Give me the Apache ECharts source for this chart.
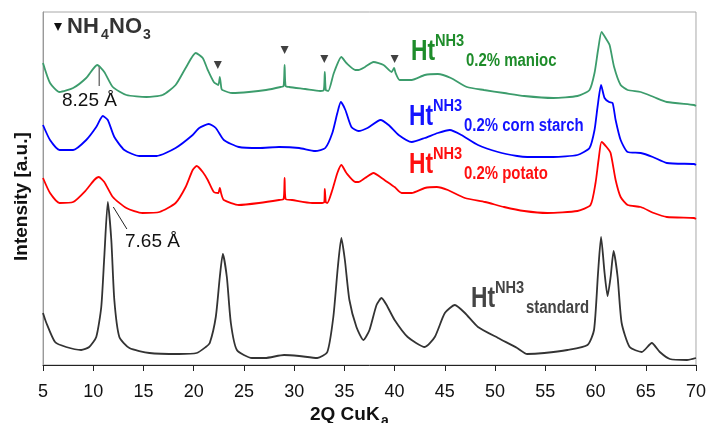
<!DOCTYPE html>
<html>
<head>
<meta charset="utf-8">
<script src="https://cdn.jsdelivr.net/npm/echarts@6/dist/echarts.min.js"></script>
<style>
  html, body { margin: 0; padding: 0; background: #fff; }
  #main { width: 709px; height: 423px; }
</style>
</head>
<body>
<div id="main"></div>
<script>
// 2theta (deg) / intensity (a.u., traces already offset vertically)
var stdTheta = [5, 5.3, 6.2, 7.3, 8.8, 9.6, 10.3, 10.8, 11.1, 11.45, 11.8, 12.1, 12.6, 13.6, 15.6, 18.5, 20.3, 21.2, 21.6, 22.2, 22.6, 22.9, 23.3, 23.7, 24.3, 25.8, 27.1, 29, 30.5, 32.3, 33.3, 33.9, 34.35, 34.7, 35.05, 35.5, 36.2, 36.9, 37.5, 38.2, 38.7, 39.2, 40, 41.3, 43, 44, 45, 46, 47, 48.3, 50.3, 52.2, 53.2, 54.9, 57.2, 59.2, 59.85, 60.25, 60.55, 60.9, 61.2, 61.5, 61.8, 62.2, 62.6, 63.4, 64.6, 65.6, 66.4, 67.4, 69.1, 70];
var stdInt = [52, 43, 23, 18, 15, 18, 28, 58, 108, 163, 125, 65, 28, 17, 12, 11, 12, 18, 22, 48, 88, 111, 88, 42, 15, 7, 7, 10, 9, 7, 13, 48, 98, 127, 105, 65, 38, 25, 35, 60, 67, 60, 45, 28, 18, 28, 52, 60, 52, 38, 27, 17, 11, 12, 15, 20, 35, 92, 128, 92, 69, 88, 114, 88, 42, 18, 13, 22, 13, 6, 5, 7];

var potTheta = [5, 5.7, 6.65, 8, 9.3, 10.1, 10.55, 11.1, 11.95, 13.3, 14.9, 16.6, 18.2, 19.2, 19.9, 20.3, 20.9, 21.4, 22, 22.45, 22.6, 22.75, 23, 24.5, 26.5, 28.5, 28.95, 29.05, 29.15, 29.8, 31.8, 32.8, 33, 33.05, 33.15, 33.3, 33.8, 34.3, 34.7, 35.2, 36.1, 36.4, 37.05, 37.9, 38.7, 39.7, 40, 40.7, 41.7, 43, 44.2, 45.3, 47, 49, 50.9, 52.9, 55.2, 58.2, 59.5, 60, 60.3, 60.6, 61.1, 61.5, 62, 62.5, 63.2, 64.5, 65.8, 67.1, 69.8, 70];
var potInt = [187, 172, 162, 163, 175, 185, 188, 183, 168, 157, 152, 153, 162, 178, 195, 199, 193, 185, 173, 172, 177, 171, 165, 160, 162, 165, 166, 187, 166, 165, 162, 162, 163, 176, 163, 162, 175, 192, 200, 192, 183, 183, 187, 192, 187, 180, 178, 172, 172, 177, 178, 175, 167, 163, 158, 154, 152, 154, 160, 182, 205, 223, 218, 212, 185, 168, 160, 158, 152, 148, 147, 146];

var cornTheta = [5, 5.7, 6.65, 8, 9.3, 10.3, 10.95, 11.45, 12.1, 13.1, 14.6, 16.3, 18.2, 19.9, 20.55, 21.5, 22.2, 23, 24.5, 26.5, 28.5, 30.5, 32.1, 33.1, 33.8, 34.3, 34.65, 35.1, 35.7, 36.4, 37.3, 38.6, 39.4, 40.4, 41.7, 43, 44.3, 45.5, 46.65, 48.3, 50.3, 52.2, 53.2, 55.8, 58.2, 59.4, 59.9, 60.2, 60.55, 60.9, 61.35, 61.7, 62, 62.5, 63.2, 64.5, 65.7, 67.1, 69.8, 70];
var cornInt = [240, 225, 215, 215, 225, 238, 249, 245, 228, 215, 209, 209, 217, 230, 237, 241, 237, 225, 218, 217, 218, 217, 214, 217, 232, 252, 263, 255, 238, 234, 237, 245, 240, 230, 223, 227, 232, 235, 230, 220, 213, 209, 208, 208, 210, 217, 235, 258, 280, 267, 263, 262, 245, 225, 213, 212, 208, 202, 201, 200];

var maniTheta = [5, 5.7, 6.65, 8, 9.3, 10.4, 11.1, 11.95, 13.3, 15.3, 16.9, 18.2, 19.2, 20.2, 20.9, 21.4, 22, 22.45, 22.6, 22.75, 22.85, 23.85, 25.5, 27.2, 28.65, 28.95, 29.05, 29.15, 29.5, 31.1, 32.6, 32.95, 33.05, 33.15, 33.4, 33.95, 34.7, 35.2, 36.1, 36.4, 37.05, 37.9, 38.9, 39.7, 39.95, 40.1, 40.5, 41.7, 43, 44.3, 45.6, 47.2, 48.9, 50.9, 52.9, 55.8, 58.2, 59.4, 59.9, 60.25, 60.6, 61, 61.4, 61.85, 62.5, 63.2, 64.5, 65.8, 67.1, 69.8, 70];
var maniInt = [302, 282, 273, 277, 287, 300, 293, 278, 270, 268, 270, 280, 297, 312, 307, 295, 283, 280, 288, 277, 275, 272, 273, 275, 278, 279, 300, 279, 278, 276, 274, 275, 293, 275, 274, 292, 308, 302, 295, 295, 298, 303, 300, 293, 297, 292, 285, 285, 290, 291, 287, 278, 275, 272, 269, 267, 269, 275, 292, 315, 333, 327, 320, 298, 280, 275, 273, 268, 263, 260, 259];

// NH4NO3 reflections marked on the manioc trace
var nh4Marks = [[22.4, 300], [29.05, 315], [33.0, 306], [40.0, 306]];
var tick825 = [[10.6, 298], [10.6, 279]];
var lead765 = [[12.0, 158], [13.35, 136]];

function zip(xs, ys) {
    var out = [];
    for (var i = 0; i < xs.length; i++) {
        out.push([xs[i], ys[i]]);
    }
    return out;
}

var font = 'Liberation Sans, Arial, sans-serif';

function trace(name, data, color) {
    return {
        name: name,
        type: 'line',
        data: data,
        showSymbol: false,
        smooth: 0.2,
        lineStyle: { color: color, width: 1.8 },
        z: 3
    };
}

// text placed by its top-left corner; sx squeezes it (Arial Narrow look)
function txt(x, y, text, size, color, weight, sx) {
    return {
        type: 'text',
        x: x,
        y: y,
        scaleX: sx || 1,
        style: {
            text: text,
            fontSize: size,
            fill: color,
            fontFamily: font,
            fontWeight: weight || 'bold',
            verticalAlign: 'top',
            align: 'left'
        }
    };
}

// one "Ht^NH3 sub" label, x/y = top-left of "Ht"
function htLabel(x, y, sub, color) {
    return [
        txt(x, y, 'Ht', 30, color, 'bold', 0.76),
        txt(x + 24, y - 4, 'NH3', 17, color, 'bold', 0.86),
        txt(x + 55, y + 15, sub, 18, color, 'bold', 0.83)
    ];
}

var graphics = []
    .concat([
        { type: 'polygon', shape: { points: [[54, 23], [62, 23], [58, 31]] }, style: { fill: '#111' } },
        txt(67, 16, 'NH', 22, '#333'),
        txt(101, 28, '4', 14, '#333'),
        txt(109, 16, 'NO', 22, '#333'),
        txt(143, 28, '3', 14, '#333'),
        txt(62, 91, '8.25 Å', 19, '#111', 'normal'),
        txt(125, 232, '7.65 Å', 19, '#111', 'normal')
    ])
    .concat(htLabel(411, 37, '0.2% manioc', '#1e8c2a'))
    .concat(htLabel(409, 102, '0.2% corn starch', '#1414ff'))
    .concat(htLabel(409, 150, '0.2% potato', '#ff1010'))
    .concat(htLabel(471, 284, 'standard', '#444'))
    .concat([
        txt(310, 405, '2Q CuK', 19, '#111'),
        txt(381, 414, 'a', 14, '#111'),
        {
            type: 'text',
            x: 12,
            y: 261,
            rotation: Math.PI / 2,
            style: {
                text: 'Intensity [a.u.]',
                fontSize: 19,
                fontWeight: 'bold',
                fill: '#111',
                fontFamily: font,
                verticalAlign: 'top',
                align: 'left'
            }
        }
    ]);

var chart = echarts.init(document.getElementById('main'));

chart.setOption({
    animation: false,
    backgroundColor: '#fff',
    grid: {
        left: 43,
        right: 10,
        top: 12,
        bottom: 58,
        show: true,
        borderColor: '#a8a8a8',
        borderWidth: 1
    },
    xAxis: {
        type: 'value',
        min: 5,
        max: 70,
        interval: 5,
        axisLine: { lineStyle: { color: '#222', width: 1 } },
        axisTick: { inside: false, length: 6, lineStyle: { color: '#222' } },
        axisLabel: { fontSize: 18, color: '#111', fontFamily: font, margin: 18 },
        splitLine: { show: false }
    },
    yAxis: {
        type: 'value',
        min: 0,
        max: 353,
        axisLine: { show: true, lineStyle: { color: '#999' } },
        axisTick: { show: false },
        axisLabel: { show: false },
        splitLine: { show: false }
    },
    series: [
        trace('standard', zip(stdTheta, stdInt), '#333333'),
        trace('potato', zip(potTheta, potInt), '#ff0000'),
        trace('corn starch', zip(cornTheta, cornInt), '#0000ff'),
        trace('manioc', zip(maniTheta, maniInt), '#3c9c6c'),
        {
            type: 'scatter',
            data: nh4Marks,
            symbol: 'triangle',
            symbolRotate: 180,
            symbolSize: 8,
            itemStyle: { color: '#111' },
            z: 4
        },
        {
            type: 'line',
            data: tick825,
            showSymbol: false,
            lineStyle: { color: '#777', width: 1.5 }
        },
        {
            type: 'line',
            data: lead765,
            showSymbol: false,
            lineStyle: { color: '#222', width: 1 }
        }
    ],
    graphic: graphics
});
</script>
</body>
</html>
